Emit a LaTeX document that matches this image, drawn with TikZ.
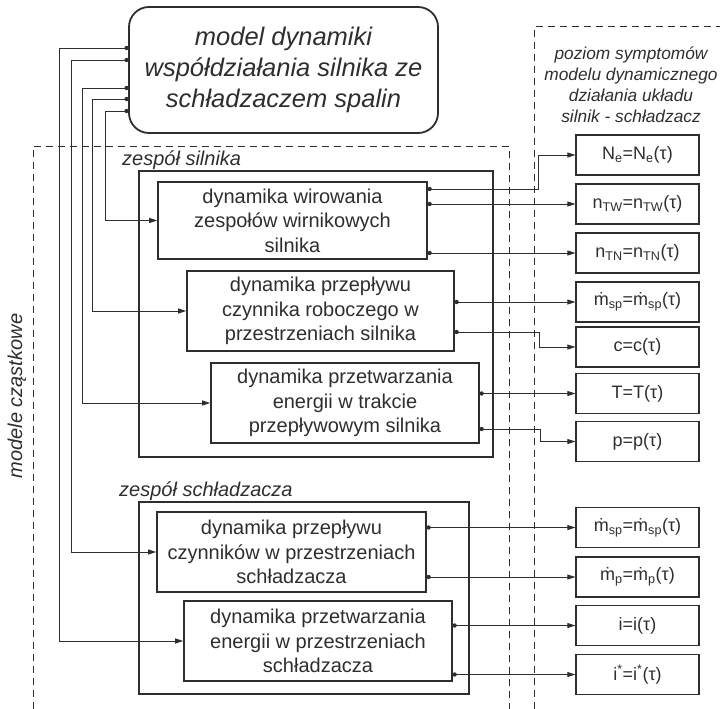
\documentclass[tikz,border=0pt]{standalone}
\usepackage{fontspec}
\setmainfont{Liberation Sans}
\usetikzlibrary{arrows.meta}
\definecolor{ink}{HTML}{2E2E2E}
\begin{document}
\begin{tikzpicture}[x=1pt,y=-1pt,
  every node/.style={text=ink},
  topbox/.style={draw=ink,line width=1.8pt,rounded corners=20pt,align=center,inner sep=0pt,
    font=\fontsize{25.5}{31}\selectfont\itshape},
  dynbox/.style={draw=ink,line width=1.6pt,align=center,inner sep=0pt,
    font=\fontsize{20}{24.5}\selectfont},
  symbox/.style={draw=ink,line width=1.3pt,align=center,inner sep=0pt,
    minimum width=123pt,minimum height=40pt,font=\fontsize{18}{22}\selectfont},
  groupbox/.style={draw=ink,line width=1.2pt},
  grouplabel/.style={anchor=west,inner sep=0pt,font=\fontsize{20}{24}\selectfont\itshape},
  region/.style={draw=ink,line width=1pt,dash pattern=on 7pt off 5pt},
  conn/.style={draw=ink,line width=0.9pt,-{Triangle[length=8pt,width=5pt]}},
  jdot/.style={fill=ink,draw=none}
]
\useasboundingbox (0,0) rectangle (720,709);

% dashed regions
\draw[region] (33,709) -- (33,146) -- (509,146) -- (509,709);
\draw[region] (534,709) -- (534,27) -- (720,27);

% top box
\node[topbox,minimum width=309pt,minimum height=126pt] (top) at (283.5,70)
  {model dynamiki\\współdziałania silnika ze\\schładzaczem spalin};

% header right
\node[align=center,inner sep=0pt,font=\fontsize{17.3}{21}\selectfont\itshape] (hdr) at (631,84.5)
  {poziom symptomów\\modelu dynamicznego\\działania układu\\silnik - schładzacz};

% rotated label
\node[rotate=90,inner sep=0pt,font=\fontsize{20}{24}\selectfont\itshape] (mc) at (17,396) {modele cząstkowe};

% groups
\draw[groupbox] (139,171) rectangle (493,457);
\node[grouplabel] (gs) at (122,160) {zespół silnika};
\draw[groupbox] (139,502) rectangle (469,694);
\node[grouplabel] (gc) at (119,491) {zespół schładzacza};

% dynamics boxes
\node[dynbox,minimum width=269pt,minimum height=77pt] (b1) at (292.5,220.5)
  {dynamika wirowania\\zespołów wirnikowych\\silnika};
\node[dynbox,minimum width=267pt,minimum height=80pt] (b2) at (320.5,311)
  {dynamika przepływu\\czynnika roboczego w\\przestrzeniach silnika};
\node[dynbox,minimum width=268pt,minimum height=80pt] (b3) at (345,403)
  {dynamika przetwarzania\\energii w trakcie\\przepływowym silnika};
\node[dynbox,minimum width=269pt,minimum height=80pt] (b4) at (291.5,552)
  {dynamika przepływu\\czynników w przestrzeniach\\schładzacza};
\node[dynbox,minimum width=268pt,minimum height=80pt] (b5) at (318,641)
  {dynamika przetwarzania\\energii w przestrzeniach\\schładzacza};

% symptom boxes
\node[symbox] (r1) at (637.5,155) {N\textsubscript{e}=N\textsubscript{e}(τ)};
\node[symbox] (r2) at (637.5,204) {n\textsubscript{TW}=n\textsubscript{TW}(τ)};
\node[symbox] (r3) at (637.5,253) {n\textsubscript{TN}=n\textsubscript{TN}(τ)};
\node[symbox] (r4) at (637.5,302) {\.m\textsubscript{sp}=\.m\textsubscript{sp}(τ)};
\node[symbox] (r5) at (637.5,347) {c=c(τ)};
\node[symbox] (r6) at (637.5,393.5) {T=T(τ)};
\node[symbox] (r7) at (637.5,441.5) {p=p(τ)};
\node[symbox] (r8) at (637.5,527.5) {\.m\textsubscript{sp}=\.m\textsubscript{sp}(τ)};
\node[symbox] (r9) at (637.5,577) {\.m\textsubscript{p}=\.m\textsubscript{p}(τ)};
\node[symbox] (r10) at (637.5,625.5) {i=i(τ)};
\node[symbox] (r11) at (637.5,674.5) {i\textsuperscript{*}=i\textsuperscript{*}(τ)};

% feeds from top box
\foreach \yy/\xx/\bb in {48/59/b5, 60/71/b4, 88/82/b3, 99/92/b2, 111/105/b1}{
  \draw[conn] (top.west |- 0,\yy) -- (\xx,\yy) |- (\bb.west);
  \fill[jdot] ([xshift=-1.5pt]top.west |- 0,\yy) circle (2.2pt);
}

% outputs
\draw[conn] (b1.east |- 0,189) -- (538,189) |- (r1.west);
\draw[conn] (b1.east |- r2.west) -- (r2.west);
\draw[conn] (b1.east |- r3.west) -- (r3.west);
\draw[conn] (b2.east |- r4.west) -- (r4.west);
\draw[conn] (b2.east |- 0,332) -- (539,332) |- (r5.west);
\draw[conn] (b3.east |- r6.west) -- (r6.west);
\draw[conn] (b3.east |- 0,429) -- (540,429) |- (r7.west);
\draw[conn] (b4.east |- r8.west) -- (r8.west);
\draw[conn] (b4.east |- r9.west) -- (r9.west);
\draw[conn] (b5.east |- r10.west) -- (r10.west);
\draw[conn] (b5.east |- r11.west) -- (r11.west);

% junction dots on box outputs
\foreach \bb/\yy in {b1/189, b2/332, b3/429}{
  \fill[jdot] ([xshift=1.8pt]\bb.east |- 0,\yy) circle (2.2pt);
}
\foreach \bb/\rr in {b1/r2, b1/r3, b2/r4, b3/r6, b4/r8, b4/r9, b5/r10, b5/r11}{
  \fill[jdot] ([xshift=1.8pt]\bb.east |- \rr.west) circle (2.2pt);
}
\end{tikzpicture}
\end{document}
